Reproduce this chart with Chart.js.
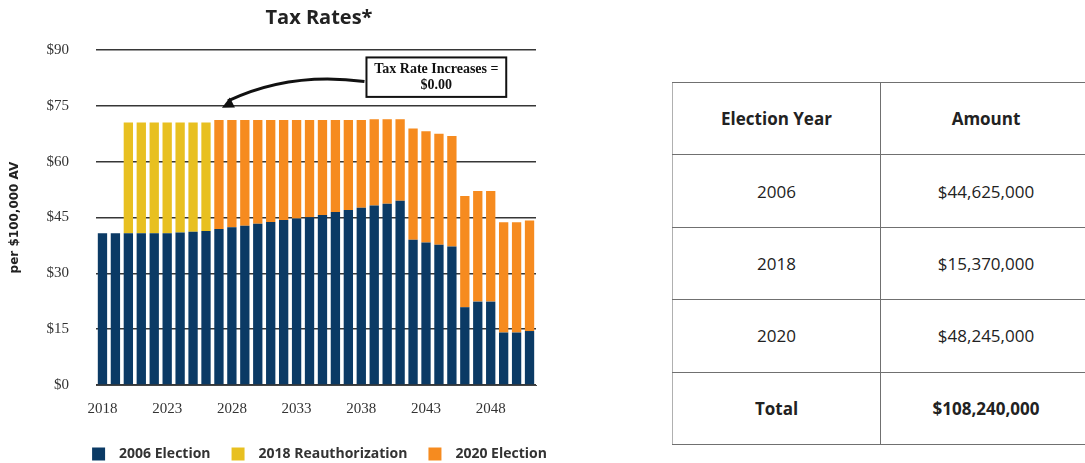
<!DOCTYPE html>
<html>
<head>
<meta charset="utf-8">
<script src="https://cdn.jsdelivr.net/npm/chart.js@4.4.1/dist/chart.umd.min.js"></script>
<style>
  html, body { margin: 0; padding: 0; background: #fff; }
  body { width: 1085px; height: 463px; position: relative; overflow: hidden; }
  #chartBox { position: absolute; left: 0; top: 0; width: 600px; height: 463px; }
  #amounts {
    position: absolute; left: 672px; top: 82px; width: 420px; height: 363px;
    border-collapse: collapse; font-family: "Open Sans", sans-serif; color: #222;
  }
  #amounts td, #amounts th {
    border: 1.5px solid #707070; text-align: center; font-size: 17px; height: 71px; padding: 0;
  }
  #amounts th { font-weight: 700; }
  #amounts tr > :first-child { border-left-color: #b0b0b0; width: 207px; }
  #amounts .total td { font-weight: 700; }
</style>
</head>
<body>
<div id="chartBox"><canvas id="taxChart"></canvas></div>
<table id="amounts"></table>
<script>
// chart data
const years = ["2018", "2019", "2020", "2021", "2022", "2023", "2024", "2025", "2026", "2027",
               "2028", "2029", "2030", "2031", "2032", "2033", "2034", "2035", "2036", "2037",
               "2038", "2039", "2040", "2041", "2042", "2043", "2044", "2045", "2046", "2047",
               "2048", "2049", "2050", "2051"];
const election2006 = [40.8, 40.8, 40.8, 40.8, 40.8, 40.8, 41.0, 41.2, 41.4, 41.9,
                      42.4, 42.8, 43.3, 43.8, 44.3, 44.7, 45.1, 45.7, 46.5, 47.0,
                      47.6, 48.2, 48.7, 49.5, 39.0, 38.3, 37.7, 37.2, 20.9, 22.4,
                      22.4, 14.1, 14.1, 14.5];
const reauth2018 = [null, null, 29.7, 29.7, 29.7, 29.7, 29.5, 29.3, 29.1, null,
                    null, null, null, null, null, null, null, null, null, null,
                    null, null, null, null, null, null, null, null, null, null,
                    null, null, null, null];
const election2020 = [null, null, null, null, null, null, null, null, null, 29.3,
                      28.8, 28.4, 27.9, 27.4, 26.9, 26.5, 26.1, 25.5, 24.7, 24.2,
                      23.6, 23.2, 22.7, 21.9, 29.9, 29.9, 29.8, 29.7, 29.9, 29.7,
                      29.7, 29.6, 29.6, 29.7];
const seriesNames = ["2006 Election", "2018 Reauthorization", "2020 Election"];
const yTicks = [0, 15, 30, 45, 60, 75, 90];

// table data
const tableHeader = ["Election Year", "Amount"];
const tableYears = ["2006", "2018", "2020"];
const tableAmounts = ["$44,625,000", "$15,370,000", "$48,245,000"];
const tableTotal = ["Total", "$108,240,000"];

// build the table
const tbl = document.getElementById("amounts");
tbl.innerHTML = `<tr><th>${tableHeader[0]}</th><th>${tableHeader[1]}</th></tr>` +
    tableYears.map((y, i) => `<tr><td>${y}</td><td>${tableAmounts[i]}</td></tr>`).join("") +
    `<tr class="total"><td>${tableTotal[0]}</td><td>${tableTotal[1]}</td></tr>`;

// move title and legend sideways / down so they sit like the original
const nudgeBoxes = {
    id: "nudgeBoxes",
    afterLayout(chart) {
        const t = chart.titleBlock;
        if (t) { t.left += 49; t.right += 49; }
        const lg = chart.legend;
        if (lg) { lg.left += 53; lg.right += 53; lg.top += 8; lg.bottom += 8; }
    }
};

// the "Tax Rate Increases" call-out with its curved arrow
const callout = {
    id: "callout",
    afterDraw(chart) {
        const ctx = chart.ctx;
        const x = chart.scales.x, y = chart.scales.y;
        const boxL = x.getPixelForValue(20.4), boxR = x.getPixelForValue(31.2);
        const boxT = y.getPixelForValue(88), boxB = y.getPixelForValue(77.4);
        const tipX = x.getPixelForValue(9) + 3, tipY = y.getPixelForValue(75);
        ctx.save();
        ctx.fillStyle = "#fff";
        ctx.fillRect(boxL, boxT, boxR - boxL, boxB - boxT);
        ctx.strokeStyle = "#111";
        ctx.lineWidth = 2;
        ctx.strokeRect(boxL, boxT, boxR - boxL, boxB - boxT);
        ctx.fillStyle = "#111";
        ctx.font = "bold 14px 'Liberation Serif', serif";
        ctx.textAlign = "center";
        ctx.textBaseline = "middle";
        const cx = (boxL + boxR) / 2;
        ctx.fillText("Tax Rate Increases =", cx, boxT + 12);
        ctx.fillText("$0.00", cx, boxT + 28);

        // arrow
        const sx = boxL - 2, sy = boxT + 24;
        const qx = tipX + 68, qy = boxT + 14;
        const ex = tipX + 6, ey = tipY - 5;
        ctx.lineWidth = 3;
        ctx.beginPath();
        ctx.moveTo(sx, sy);
        ctx.quadraticCurveTo(qx, qy, ex, ey);
        ctx.stroke();
        const ang = Math.atan2(tipY - qy, tipX - qx);
        ctx.beginPath();
        ctx.moveTo(tipX, tipY + 2);
        ctx.lineTo(tipX - 13 * Math.cos(ang - 0.45), tipY + 2 - 13 * Math.sin(ang - 0.45));
        ctx.lineTo(tipX - 13 * Math.cos(ang + 0.45), tipY + 2 - 13 * Math.sin(ang + 0.45));
        ctx.closePath();
        ctx.fill();
        ctx.restore();
    }
};

const ctx = document.getElementById("taxChart").getContext("2d");
const barColors = ["#0b3a65", "#e8c020", "#f68b1f"];
new Chart(ctx, {
    type: "bar",
    data: {
        labels: years,
        datasets: [election2006, reauth2018, election2020].map((d, i) => ({
            label: seriesNames[i],
            data: d,
            backgroundColor: barColors[i],
            borderWidth: 0,
            barPercentage: 0.72,
            categoryPercentage: 1
        }))
    },
    options: {
        responsive: true,
        maintainAspectRatio: false,
        animation: false,
        layout: { padding: { left: 4, right: 64, top: 0, bottom: 0 } },
        plugins: {
            title: {
                display: true,
                text: "Tax Rates*",
                color: "#222",
                font: { family: "'Open Sans', sans-serif", size: 20, weight: "bold" },
                padding: { top: 6, bottom: 20 }
            },
            legend: {
                position: "bottom",
                labels: {
                    boxWidth: 13,
                    boxHeight: 13,
                    padding: 14,
                    color: "#333",
                    font: { family: "'Open Sans', sans-serif", size: 14, weight: "bold" },
                    // a little more room between the swatch and its text
                    generateLabels: chart => Chart.defaults.plugins.legend.labels.generateLabels(chart)
                        .map(l => Object.assign(l, { text: "\u2002" + l.text + "\u2002" }))
                }
            },
            tooltip: { enabled: false }
        },
        scales: {
            x: {
                stacked: true,
                grid: { display: false },
                border: { display: true, color: "#444", width: 1 },
                ticks: {
                    autoSkip: false,
                    maxRotation: 0,
                    padding: 7,
                    color: "#333",
                    font: { family: "'Liberation Serif', serif", size: 15 },
                    callback: (v, i) => (i % 5 === 0 ? years[i] : null)
                }
            },
            y: {
                stacked: true,
                min: 0,
                max: 90,
                z: 1,
                afterBuildTicks: s => { s.ticks = yTicks.map(v => ({ value: v })); },
                afterFit: s => { s.width = 92; },
                grid: { color: "rgba(20,20,20,0.85)", lineWidth: 1.5, drawTicks: false },
                border: { display: false },
                ticks: {
                    padding: 27,
                    color: "#333",
                    font: { family: "'Liberation Serif', serif", size: 15 },
                    callback: v => "$" + v
                },
                title: {
                    display: true,
                    text: "per $100,000 AV",
                    color: "#222",
                    font: { family: "'DejaVu Sans', sans-serif", size: 12, weight: "bold" },
                    padding: { top: 4, bottom: 0 }
                }
            }
        }
    },
    plugins: [nudgeBoxes, callout]
});
</script>
</body>
</html>
